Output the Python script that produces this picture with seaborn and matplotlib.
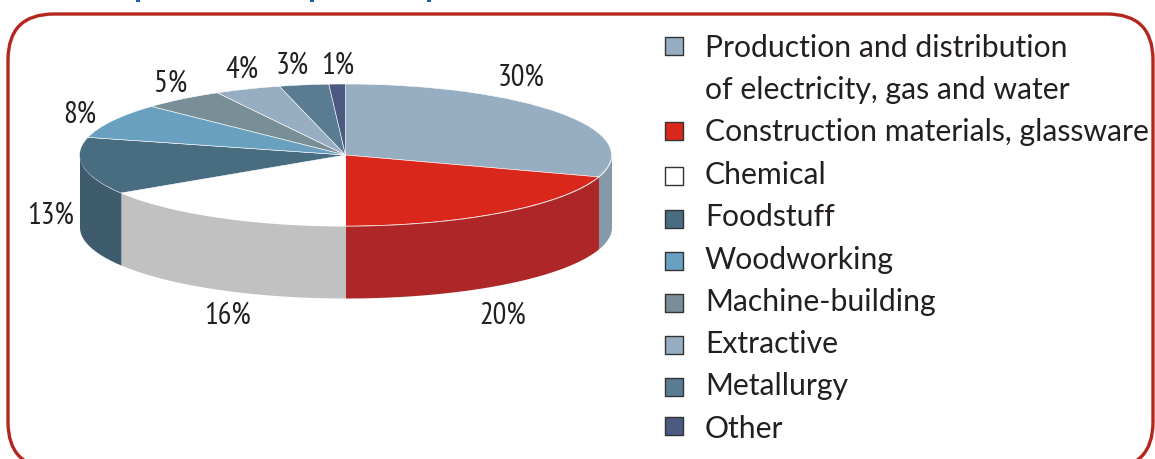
import numpy as np
import pandas as pd
import matplotlib
matplotlib.use('Agg')
import matplotlib.pyplot as plt
from matplotlib.patches import FancyBboxPatch
import seaborn as sns

### data
sectors = ['Production and distribution\nof electricity, gas and water',
           'Construction materials, glassware', 'Chemical', 'Foodstuff',
           'Woodworking', 'Machine-building', 'Extractive', 'Metallurgy', 'Other']
shares = [30, 20, 16, 13, 8, 5, 4, 3, 1]
top_colors = ['#97adc1', '#da271c', '#ffffff', '#486c80', '#6aa0bf',
              '#7a8e97', '#97adc1', '#5a7c92', '#4c5a82']
side_colors = ['#8599a8', '#ad2729', '#c1c1c1', '#3e5c6e', '#5a88a2',
               '#68797f', '#8093a4', '#4d697c', '#404c6e']

### layout, in pixels of the picture
W, H = 1155, 459
cx, cy, rx, ry, depth = 345.5, 155, 266, 71, 72
label_xy = [(521, 86), (503, 324), (228, 324), (51, 224), (80, 123),
            (171, 92), (242, 78), (292, 74), (338, 74)]
legend_rows = [46, 131, 176, 219, 261, 303, 345, 387, 426]
text_rows = [57, 141.5, 184, 226, 268.5, 310.5, 353, 395.5, 437.5]

sns.set_theme(style='white')
plt.rcParams['font.family'] = ['Lato', 'DejaVu Sans']
ink = '#231f20'

fig = plt.figure(figsize=(W / 100, H / 100), dpi=100)

# overlay in pixel coordinates for frame, labels and legend
bg = fig.add_axes([0, 0, 1, 1])
bg.set_xlim(0, W)
bg.set_ylim(H, 0)
bg.axis('off')
bg.add_patch(FancyBboxPatch((8, 14), 1145, 454, boxstyle='round,pad=0,rounding_size=46',
                            fc='white', ec='#b5261e', lw=2.4))

# slivers of the heading that the crop cut off above the frame
bg.scatter([138, 312, 429], [0, 0, 0], marker='s', s=9, color='#1a5ea8', linewidths=0)

#%% pie
low, high = -1 - depth / ry - 0.1, 1.1
ax = fig.add_axes([(cx - 1.1 * rx) / W, 1 - (cy - low * ry) / H,
                   2.2 * rx / W, (high - low) * ry / H])
ax.pie(shares, colors=sns.color_palette(top_colors), startangle=90, counterclock=False,
       wedgeprops={'edgecolor': 'white', 'linewidth': 0.4})
ax.set_aspect('auto')
ax.set_xlim(-1.1, 1.1)
ax.set_ylim(low, high)

# side wall, only the part of each slice that faces the viewer
edges = np.cumsum([0] + shares) / sum(shares) * 2 * np.pi
for start, end, color in zip(edges[:-1], edges[1:], side_colors):
    start, end = max(start, np.pi / 2), min(end, 3 * np.pi / 2)
    if start >= end:
        continue
    t = np.linspace(start, end, 80)
    ax.fill_between(np.sin(t), np.cos(t), np.cos(t) - depth / ry, color=color, lw=0)

#%% percent labels
for v, (x, y) in zip(shares, label_xy):
    bg.text(x, y, '{}%'.format(v), ha='center', va='baseline', color=ink, fontsize=22,
            family=['PT Sans Narrow', 'Liberation Sans'])

#%% legend
df_legend = pd.DataFrame({'sector': sectors, 'x': 674, 'row': legend_rows})
sns.scatterplot(data=df_legend, x='x', y='row', hue='sector', palette=top_colors, marker='s',
                s=150, edgecolor='#333333', linewidth=1, legend=False, ax=bg)
bg.set_xlim(0, W)
bg.set_ylim(H, 0)
bg.axis('off')
for name, y in zip(sectors, text_rows):
    for i, line in enumerate(name.split('\n')):
        bg.text(705, y + 42 * i, line, ha='left', va='baseline', color=ink, fontsize=21.7)

fig.savefig('out.png', dpi=100)
